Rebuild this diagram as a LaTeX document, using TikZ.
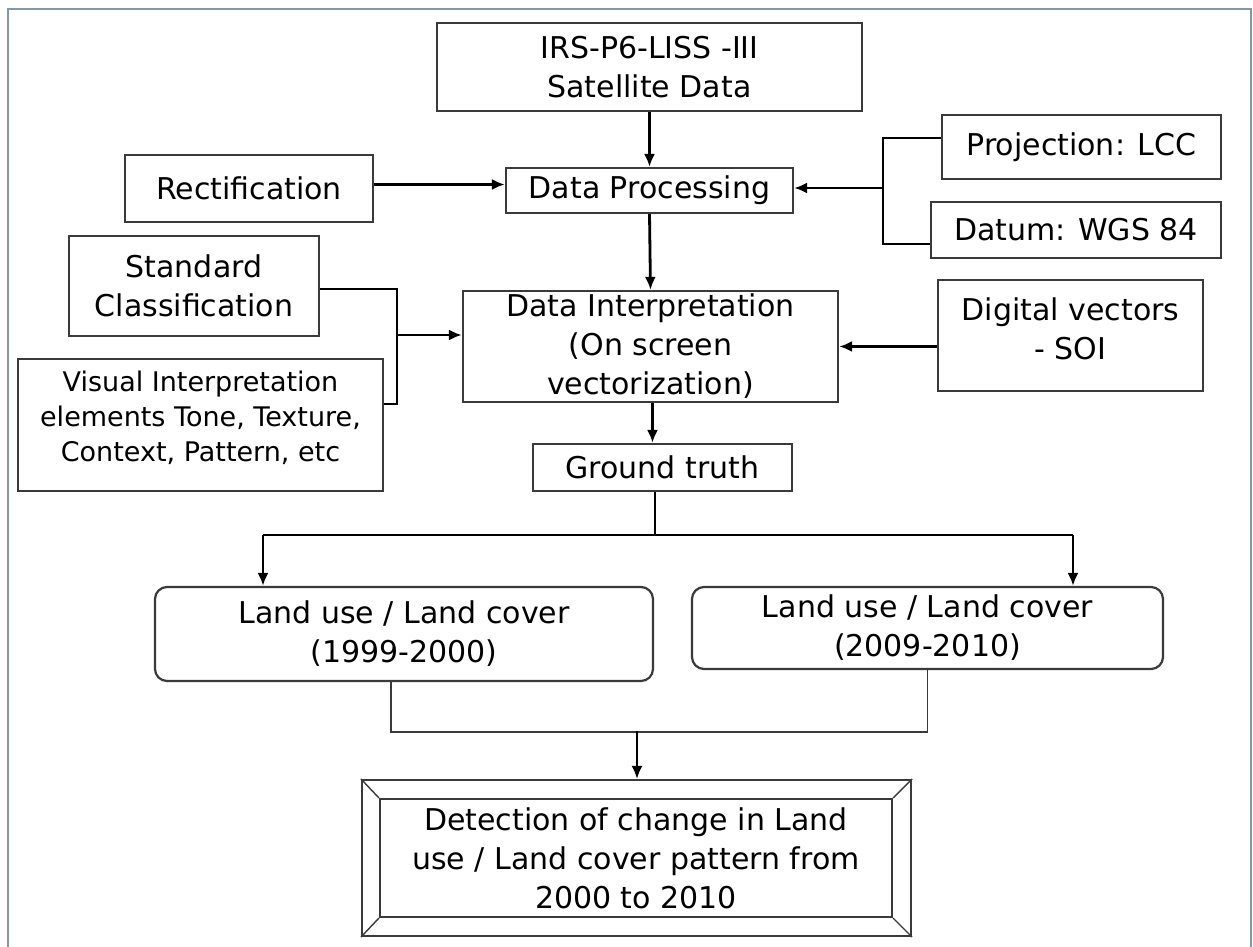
\documentclass[tikz,border=0pt]{standalone}
\usepackage{fontspec}
\setmainfont{DejaVu Sans}
\usetikzlibrary{arrows.meta}
\definecolor{framec}{HTML}{8197AB}
\definecolor{boxc}{HTML}{3A3A3A}
\tikzset{
  box/.style={draw=boxc, line width=2.2pt, inner sep=0pt, align=center, font=\fontsize{30}{39}\selectfont},
  rbox/.style={box, rounded corners=12pt},
  txt/.style={inner sep=0pt, align=center, font=\fontsize{30}{39}\selectfont},
  conn/.style={line width=2.8pt, black},
  arr/.style={conn, -{Latex[length=13pt,width=11pt]}},
  thinconn/.style={line width=1.8pt, boxc},
}
\begin{document}
\begin{tikzpicture}[x=1pt,y=-1pt]
\useasboundingbox (0,0) rectangle (1253,947);
\fill[white] (0,0) rectangle (1253,947);
\draw[framec, line width=2.2pt] (8,947) -- (8,9) -- (1251,9) -- (1251,947);

\node[box, minimum width=425, minimum height=88] (irs) at (649.5,67) {IRS-P6-LISS -III\\Satellite Data};
\node[box, minimum width=287, minimum height=45] (dp) at (649.5,190.5) {Data Processing};
\node[box, minimum width=248, minimum height=67] (rect) at (249,188.5) {Rectification};
\node[box, minimum width=279, minimum height=64] (proj) at (1081.5,147) {Projection: LCC};
\node[box, minimum width=290, minimum height=56] (datum) at (1076,230) {Datum: WGS 84};
\node[box, minimum width=250, minimum height=100] (sc) at (194,286) {Standard\\Classification};
\node[box, minimum width=365, minimum height=132] (vi) at (200.5,425) {};
\node[txt, font=\fontsize{27}{35}\selectfont] (vit) at ([yshift=7pt]vi.center) {Visual Interpretation\\elements Tone, Texture,\\Context, Pattern, etc};
\node[box, minimum width=375, minimum height=111] (di) at (650.5,346.5) {Data Interpretation\\(On screen\\vectorization)};
\node[box, minimum width=265, minimum height=111] (dv) at (1070.5,335.5) {};
\node[txt] (dvt) at ([yshift=7pt]dv.center) {Digital vectors\\- SOI};
\node[box, minimum width=259, minimum height=47] (gt) at (662.5,467.5) {Ground truth};
\node[rbox, minimum width=498, minimum height=94] (lu1) at (404,634) {Land use / Land cover\\(1999-2000)};
\node[rbox, minimum width=471, minimum height=82] (lu2) at (927.5,628) {Land use / Land cover\\(2009-2010)};
\node[draw=boxc, line width=2.2pt, minimum width=549, minimum height=156, inner sep=0pt] (detout) at (636.5,858) {};
\node[box, minimum width=512, minimum height=118] (det) at (636,858) {Detection of change in Land\\use / Land cover pattern from\\2000 to 2010};
\draw[boxc, line width=1.4pt] (detout.north west) -- (det.north west)
  (detout.north east) -- (det.north east)
  (detout.south west) -- (det.south west)
  (detout.south east) -- (det.south east);

% connectors
\draw[arr] (irs.south) -- (dp.north);
\draw[arr] ([yshift=4pt]rect.east) -- ([yshift=4pt]rect.east -| dp.west);
\coordinate (bj) at (883,188);
\draw[conn] ([yshift=9pt]proj.west) -| (bj) |- ([yshift=-14pt]datum.west);
\draw[arr] (bj) -- (bj -| dp.east);
\draw[arr] (dp.south) -- (di.north);
\coordinate (lj) at (397,335);
\draw[conn] ([yshift=-3pt]sc.east) -| (lj) |- ([yshift=21pt]vi.east);
\draw[arr] (lj) -- (lj -| di.west);
\draw[arr] ([yshift=-11pt]dv.west) -- ([yshift=-11pt]dv.west -| di.east);
\draw[arr] ([xshift=2pt]di.south) -- ([xshift=2pt]di.south |- gt.north);
\coordinate (gj) at (655,535);
\coordinate (a1) at (263,535);
\coordinate (a2) at (1073,535);
\draw[conn] (gt.south -| gj) -- (gj);
\draw[conn] (a1) -- (a2);
\draw[arr] (a1) -- (a1 |- lu1.north);
\draw[arr] (a2) -- (a2 |- lu2.north);
\coordinate (bj2) at (637,731);
\draw[thinconn] ([xshift=-13pt]lu1.south) -- ++(0,50) -| (lu2.south);
\draw[arr, line width=2pt] (bj2) -- (bj2 |- detout.north);
\end{tikzpicture}
\end{document}
